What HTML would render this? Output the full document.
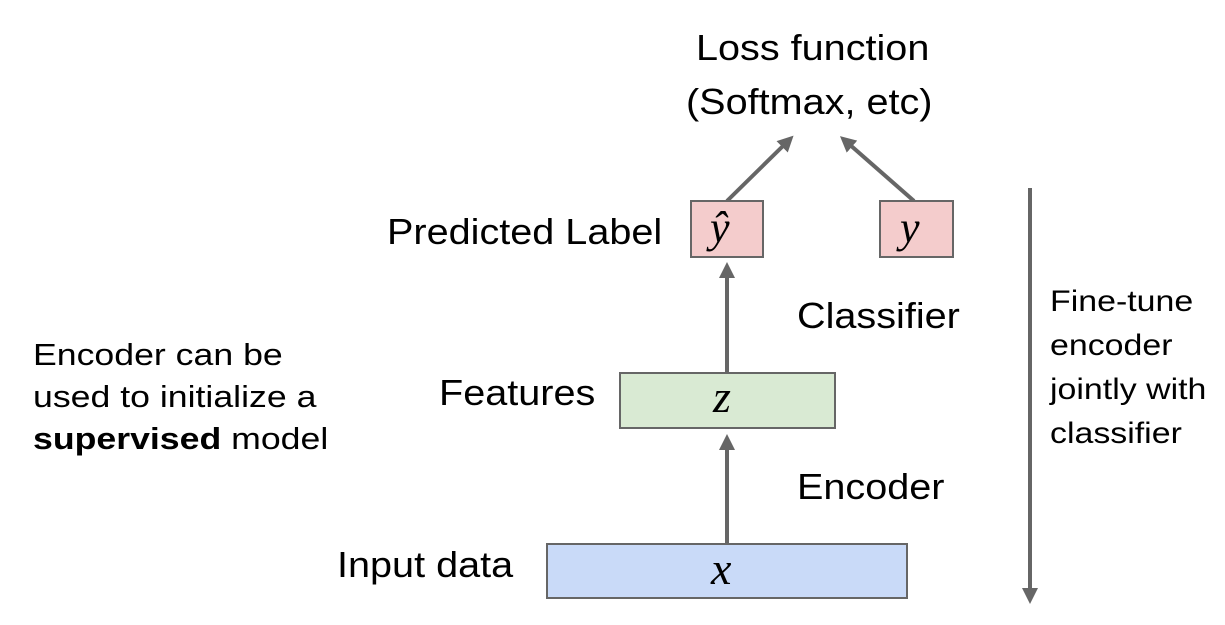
<!DOCTYPE html>
<html><head><style>
body{margin:0;width:1225px;height:625px;background:#fff;position:relative;font-family:"Liberation Sans",sans-serif;overflow:hidden}
.t{position:absolute;color:#000;white-space:nowrap;line-height:1;transform-origin:0 0}
.b{font-size:36px;transform:scaleX(1.1)}
.m{font-family:"Liberation Serif",serif;font-style:italic}
</style></head><body>
<svg width="1225" height="625" style="position:absolute;left:0;top:0">
<defs><marker id="a" markerWidth="5" markerHeight="5" refX="1" refY="2" orient="auto" markerUnits="strokeWidth"><path d="M0,0 L4,2 L0,4 z" fill="#666"/></marker></defs>
<g stroke="#666" stroke-width="4" fill="none">
<line x1="727" y1="544" x2="727" y2="446" marker-end="url(#a)"/>
<line x1="727" y1="373" x2="727" y2="274" marker-end="url(#a)"/>
<line x1="727" y1="201" x2="785" y2="144" marker-end="url(#a)"/>
<line x1="914" y1="201" x2="849" y2="144" marker-end="url(#a)"/>
<line x1="1030" y1="188" x2="1030" y2="592" marker-end="url(#a)"/>
</g>
<g stroke="#666" stroke-width="2">
<rect x="547" y="544" width="360" height="54" fill="#c9daf8"/>
<rect x="620" y="373" width="215" height="55" fill="#d9ead3"/>
<rect x="691" y="201" width="72" height="56" fill="#f4cccc"/>
<rect x="880" y="201" width="73" height="56" fill="#f4cccc"/>
</g>
</svg>
<div class="t b" style="left:696px;top:30px">Loss function</div>
<div class="t b" style="left:686px;top:84px">(Softmax, etc)</div>
<div class="t b" style="left:387px;top:214px">Predicted Label</div>
<div class="t m" style="left:710px;top:206px;font-size:44px">ŷ</div>
<div class="t m" style="left:900px;top:206px;font-size:44px">y</div>
<div class="t b" style="left:797px;top:298px">Classifier</div>
<div class="t b" style="left:439px;top:375px">Features</div>
<div class="t m" style="left:713px;top:374px;font-size:46px">z</div>
<div class="t b" style="left:797px;top:469px">Encoder</div>
<div class="t b" style="left:337px;top:547px">Input data</div>
<div class="t m" style="left:711px;top:546px;font-size:46px">x</div>
<div class="t" style="left:33px;top:334px;font-size:31px;line-height:42px;transform:scaleX(1.15)">Encoder can be<br>used to initialize a<br><b>supervised</b> model</div>
<div class="t" style="left:1050px;top:280px;font-size:30px;line-height:44px;transform:scaleX(1.13)">Fine-tune<br>encoder<br>jointly with<br>classifier</div>
</body></html>
